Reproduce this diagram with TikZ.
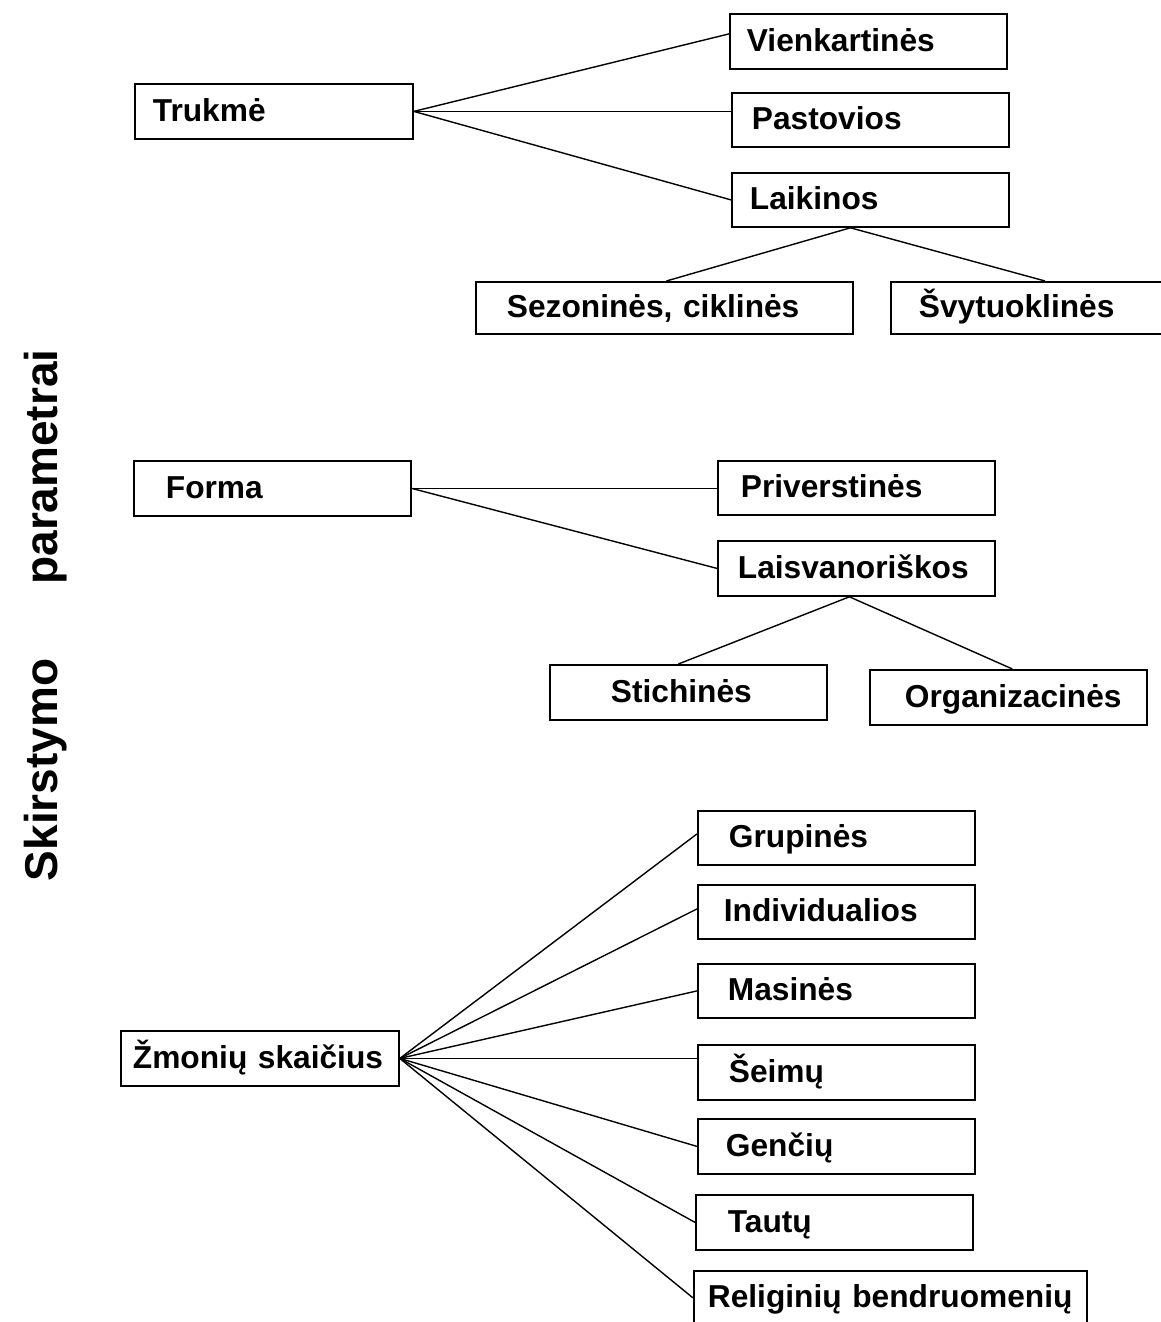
\documentclass[tikz,border=0pt]{standalone}
\usepackage{fontspec}
\setmainfont{Liberation Sans}
\usetikzlibrary{calc}
\newcommand{\boxfont}{\fontsize{31.7}{36}\selectfont\bfseries}
\newcommand{\sidefont}{\fontsize{46}{50}\selectfont\bfseries}
\begin{document}
\begin{tikzpicture}[x=1pt,y=-1pt,
  bx/.style n args={2}{draw, line width=1.8pt, rectangle, anchor=north west,
     inner xsep=0pt, inner ysep=0pt, text width=#2, align=left,
     minimum height=54pt, text height=20pt, text depth=0pt, font=\boxfont,
     execute at begin node={\hspace*{#1}}},
  ln/.style={line width=1.4pt},
  side/.style={rotate=90, anchor=base, inner sep=0pt, font=\sidefont}]
\useasboundingbox[fill=white] (0,0) rectangle (1160,1322);

% side title
\node[side] (s1) at (57,770) {Skirstymo};
\node[side] (s2) at (57,467) {parametrai};

% Trukme group
\node[bx={18pt}{278pt}, minimum height=55pt] (t) at (134,83) {Trukmė};
\node[bx={17pt}{277pt}, minimum height=55pt] (v) at (729,13) {Vienkartinės};
\node[bx={20pt}{277pt}] (p) at (731,92) {Pastovios};
\node[bx={18pt}{277pt}] (l) at (731,172) {Laikinos};
\node[bx={31pt}{377pt}, minimum height=52pt] (sz) at (475,281) {Sezoninės, ciklinės};
\node[bx={28pt}{290pt}, minimum height=52pt] (sv) at (890,281) {Švytuoklinės};

\draw[ln] (t.east) -- ($(v.west)+(0,-7.5)$);
\draw[ln] (t.east) -- (t.east -| p.west);
\draw[ln] (t.east) -- (l.west);
\coordinate (lb) at ($(l.south)+(-20,0)$);
\draw[ln] (lb) -- ($(sz.north)+(2,0)$);
\draw[ln] (lb) -- ($(sv.north west)+(155,0)$);

% Forma group
\node[bx={32pt}{277pt}, minimum height=55pt] (f) at (133,460) {Forma};
\node[bx={23pt}{277pt}] (pv) at (717,460) {Priverstinės};
\node[bx={20pt}{277pt}, minimum height=55pt] (ls) at (717,540) {Laisvanoriškos};
\node[bx={61pt}{277pt}, minimum height=55pt] (st) at (549,664) {Stichinės};
\node[bx={35pt}{277pt}, minimum height=55pt] (o) at (869,669) {Organizacinės};

\draw[ln] (f.east) -- (f.east -| pv.west);
\draw[ln] (f.east) -- (ls.west);
\coordinate (lsb) at ($(ls.south)+(-7,0)$);
\draw[ln] (lsb) -- ($(st.north)+(-10,0)$);
\draw[ln] (lsb) -- ($(o.north)+(4,0)$);

% Zmoniu skaicius group
\node[bx={12pt}{278pt}, minimum height=55pt] (z) at (120,1030) {Žmonių skaičius};
\node[bx={31pt}{277pt}] (g) at (697,810) {Grupinės};
\node[bx={26pt}{277pt}] (i) at (697,884) {Individualios};
\node[bx={30pt}{277pt}] (m) at (697,963) {Masinės};
\node[bx={31pt}{277pt}, minimum height=55pt] (se) at (697,1044) {Šeimų};
\node[bx={28pt}{277pt}, minimum height=55pt] (ge) at (697,1118) {Genčių};
\node[bx={32pt}{277pt}, minimum height=55pt] (ta) at (695,1194) {Tautų};
\node[bx={14pt}{393pt}] (r) at (693,1270) {Religinių bendruomenių};

\draw[ln] (z.east) -- ($(g.west)+(0,-4)$);
\draw[ln] (z.east) -- ($(i.west)+(0,-3)$);
\draw[ln] (z.east) -- (m.west);
\draw[ln] (z.east) -- (z.east -| se.west);
\draw[ln] (z.east) -- (ge.west);
\draw[ln] (z.east) -- (ta.west);
\draw[ln] (z.east) -- (r.west);
\end{tikzpicture}
\end{document}
